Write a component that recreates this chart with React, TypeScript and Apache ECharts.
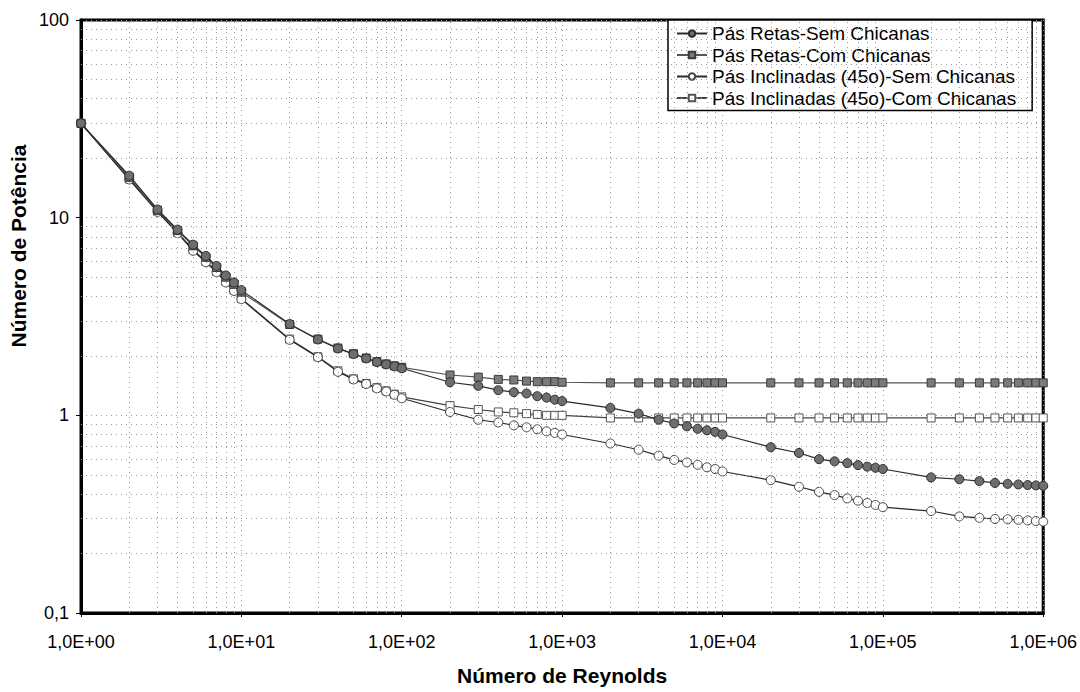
import React, { useEffect, useRef } from "react";
import * as echarts from "echarts";

const reynolds = [
  1, 2, 3, 4, 5, 6, 7, 8, 9,
  10, 20, 30, 40, 50, 60, 70, 80, 90,
  100, 200, 300, 400, 500, 600, 700, 800, 900,
  1000, 2000, 3000, 4000, 5000, 6000, 7000, 8000, 9000,
  10000, 20000, 30000, 40000, 50000, 60000, 70000, 80000, 90000,
  100000, 200000, 300000, 400000, 500000, 600000, 700000, 800000, 900000,
  1000000,
];

const retasSem = [
  30, 16.3, 11.0, 8.7, 7.3, 6.4, 5.7, 5.1, 4.7,
  4.3, 2.9, 2.42, 2.18, 2.04, 1.94, 1.86, 1.81, 1.77,
  1.73, 1.47, 1.41, 1.34, 1.31, 1.29, 1.25, 1.23, 1.2,
  1.18, 1.09, 1.02, 0.95, 0.91, 0.88, 0.855, 0.84, 0.825,
  0.8, 0.69, 0.645, 0.6, 0.585, 0.573, 0.56, 0.55, 0.543,
  0.535, 0.485, 0.475, 0.465, 0.455, 0.45, 0.447, 0.444, 0.442,
  0.44,
];

const retasCom = [
  30, 16.0, 10.9, 8.6, 7.2, 6.3, 5.6, 5.0, 4.6,
  4.2, 2.88, 2.43, 2.19, 2.05, 1.95, 1.87, 1.82, 1.78,
  1.75, 1.6, 1.56, 1.52, 1.51, 1.49, 1.48, 1.48, 1.48,
  1.47, 1.46, 1.46, 1.46, 1.46, 1.46, 1.46, 1.46, 1.46,
  1.46, 1.46, 1.46, 1.46, 1.46, 1.46, 1.46, 1.46, 1.46,
  1.46, 1.46, 1.46, 1.46, 1.46, 1.46, 1.46, 1.46, 1.46,
  1.46,
];

const inclinadasSem = [
  30, 15.6, 10.7, 8.35, 6.8, 5.95, 5.3, 4.7, 4.26,
  3.87, 2.41, 1.97, 1.66, 1.52, 1.44, 1.37, 1.32, 1.27,
  1.22, 1.04, 0.95, 0.92, 0.89, 0.87, 0.85, 0.83, 0.815,
  0.8, 0.72, 0.67, 0.625, 0.595, 0.578, 0.562, 0.546, 0.535,
  0.52, 0.47, 0.435, 0.41, 0.395, 0.38, 0.37, 0.36, 0.352,
  0.343, 0.328, 0.308, 0.303, 0.299, 0.298, 0.296, 0.294, 0.292,
  0.29,
];

const inclinadasCom = [
  30, 15.7, 10.8, 8.4, 6.9, 6.0, 5.35, 4.75, 4.3,
  3.9, 2.43, 1.98, 1.68, 1.53, 1.45, 1.38, 1.33, 1.28,
  1.24, 1.12, 1.07, 1.04, 1.03, 1.02, 1.01, 1.0, 1.0,
  1.0, 0.97, 0.97, 0.97, 0.97, 0.97, 0.97, 0.97, 0.97,
  0.97, 0.97, 0.97, 0.97, 0.97, 0.97, 0.97, 0.97, 0.97,
  0.97, 0.97, 0.97, 0.97, 0.97, 0.97, 0.97, 0.97, 0.97,
  0.97,
];

const seriesNames = [
  "Pás Retas-Sem Chicanas",
  "Pás Retas-Com Chicanas",
  "Pás Inclinadas (45o)-Sem Chicanas",
  "Pás Inclinadas (45o)-Com Chicanas",
];

const minorX = [2, 3, 4, 5, 6, 7, 8, 9, 20, 30, 40, 50, 60, 70, 80, 90, 200, 300, 400, 500, 600, 700, 800, 900,
  2000, 3000, 4000, 5000, 6000, 7000, 8000, 9000, 20000, 30000, 40000, 50000, 60000, 70000, 80000, 90000,
  200000, 300000, 400000, 500000, 600000, 700000, 800000, 900000];
const minorY = [0.2, 0.3, 0.4, 0.5, 0.6, 0.7, 0.8, 0.9, 2, 3, 4, 5, 6, 7, 8, 9, 20, 30, 40, 50, 60, 70, 80, 90];

const FONT = "'Liberation Sans', Arial, sans-serif";

export default function App() {
  const ref = useRef<HTMLDivElement>(null);
  useEffect(() => {
    if (!ref.current) return;
    const chart = echarts.init(ref.current, undefined, { renderer: "svg" });
    const pairs = (vals: number[]) => reynolds.map((r, i) => [r, vals[i]]);
    const styles = [
      { symbol: "circle", fill: "#6e6e6e", border: "#2a2a2a", line: "#2a2a2a" },
      { symbol: "rect", fill: "#7a7a7a", border: "#3a3a3a", line: "#555555" },
      { symbol: "circle", fill: "#ffffff", border: "#444444", line: "#2a2a2a" },
      { symbol: "rect", fill: "#ffffff", border: "#555555", line: "#444444" },
    ];
    const gridStyle = { type: [1, 4] as any, color: "#9a9a9a", width: 1 };
    const dataSets = [retasSem, retasCom, inclinadasSem, inclinadasCom];
    const series: any[] = [
      {
        type: "line",
        name: "__grid",
        data: [],
        silent: true,
        z: 1,
        markLine: {
          silent: true,
          symbol: ["none", "none"],
          label: { show: false },
          lineStyle: gridStyle,
          data: [
            ...minorX.map((v) => ({ xAxis: v })),
            ...minorY.map((v) => ({ yAxis: v })),
          ],
        },
      },
      ...dataSets.map((vals, i) => ({
        type: "line",
        name: seriesNames[i],
        data: pairs(vals),
        symbol: styles[i].symbol,
        symbolSize: styles[i].symbol === "rect" ? 8 : 9,
        z: 3 + (3 - i),
        lineStyle: { color: styles[i].line, width: 1.2 },
        itemStyle: { color: styles[i].fill, borderColor: styles[i].border, borderWidth: 1 },
      })),
    ];
    chart.setOption({
      animation: false,
      backgroundColor: "#ffffff",
      textStyle: { fontFamily: FONT },
      grid: {
        left: 81,
        right: 33,
        top: 20,
        bottom: 79,
        show: true,
        borderColor: "#000",
        borderWidth: 3,
        backgroundColor: "transparent",
      },
      legend: {
        data: seriesNames,
        orient: "vertical",
        left: 668,
        top: 20,
        padding: [4, 16, 3, 8],
        itemGap: 2.5,
        itemWidth: 30,
        itemHeight: 8,
        borderColor: "#000",
        borderWidth: 1.5,
        backgroundColor: "#fff",
        textStyle: { fontSize: 19, color: "#000", fontFamily: FONT },
      },
      xAxis: {
        type: "log",
        logBase: 10,
        min: 1,
        max: 1000000,
        name: "Número de Reynolds",
        nameLocation: "middle",
        nameGap: 52,
        nameTextStyle: { fontSize: 21, fontWeight: "bold", color: "#000", fontFamily: FONT },
        axisLine: { show: true, lineStyle: { color: "#000", width: 3 } },
        axisTick: { show: true, length: 4, lineStyle: { color: "#000" } },
        axisLabel: {
          fontSize: 18,
          color: "#000",
          margin: 20,
          fontFamily: FONT,
          formatter: (v: number) => {
            const e = Math.round(Math.log10(v));
            return "1,0E+" + (e < 10 ? "0" : "") + e;
          },
        },
        splitLine: { show: true, lineStyle: gridStyle },
      },
      yAxis: {
        type: "log",
        logBase: 10,
        min: 0.1,
        max: 100,
        axisLine: { show: true, lineStyle: { color: "#000", width: 3 } },
        axisTick: { show: true, length: 5, lineStyle: { color: "#000" } },
        axisLabel: {
          fontSize: 18,
          color: "#000",
          margin: 12,
          fontFamily: FONT,
          formatter: (v: number) => String(parseFloat(v.toPrecision(3))).replace(".", ","),
        },
        splitLine: { show: true, lineStyle: gridStyle },
      },
      graphic: [
        {
          type: "text",
          x: 18,
          y: 246,
          rotation: Math.PI / 2,
          style: {
            text: "Número de Potência",
            fontSize: 21,
            fontWeight: "bold",
            fill: "#000",
            fontFamily: FONT,
            align: "center",
            verticalAlign: "middle",
          },
        },
      ],
      series,
    });
    return () => chart.dispose();
  }, []);
  return (
    <div
      ref={ref}
      style={{ position: "fixed", left: 0, top: 0, width: 1080, height: 692 }}
    />
  );
}
